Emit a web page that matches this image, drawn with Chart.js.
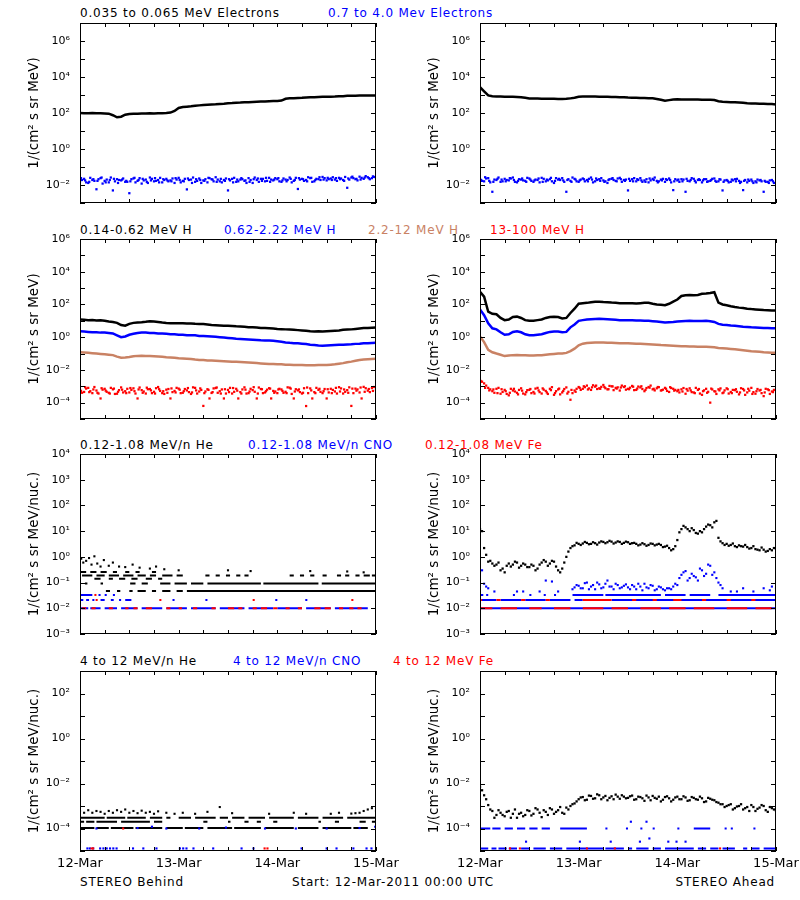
<!DOCTYPE html>
<html><head><meta charset="utf-8">
<script src="https://cdn.jsdelivr.net/npm/chart.js@4.4.1/dist/chart.umd.min.js"></script>
<style>
html,body{margin:0;padding:0;background:#fff}
body{width:800px;height:900px;position:relative;overflow:hidden;font-family:"DejaVu Sans",sans-serif}
.t{position:absolute;font-size:12px;line-height:14px;letter-spacing:0.8px;white-space:nowrap;color:#000}
canvas{position:absolute}
</style></head><body>
<div class="t" style="left:80px;top:6px">0.035 to 0.065 MeV Electrons</div>
<div class="t" style="left:328px;top:6px;color:#0000ff">0.7 to 4.0 Mev Electrons</div>
<div class="t" style="left:80px;top:223px">0.14-0.62 MeV H</div>
<div class="t" style="left:224px;top:223px;color:#0000ff">0.62-2.22 MeV H</div>
<div class="t" style="left:368px;top:223px;color:#c98264">2.2-12 MeV H</div>
<div class="t" style="left:490px;top:223px;color:#ff0000">13-100 MeV H</div>
<div class="t" style="left:80px;top:438px">0.12-1.08 MeV/n He</div>
<div class="t" style="left:248px;top:438px;color:#0000ff">0.12-1.08 MeV/n CNO</div>
<div class="t" style="left:425px;top:438px;color:#ff0000">0.12-1.08 MeV Fe</div>
<div class="t" style="left:80px;top:654px">4 to 12 MeV/n He</div>
<div class="t" style="left:233px;top:654px;color:#0000ff">4 to 12 MeV/n CNO</div>
<div class="t" style="left:393px;top:654px;color:#ff0000">4 to 12 MeV Fe</div>
<div class="t" style="left:80px;top:875px">STEREO Behind</div>
<div class="t" style="left:292px;top:875px">Start: 12-Mar-2011 00:00 UTC</div>
<div class="t" style="right:25px;top:875px">STEREO Ahead</div>
<script>
// ---------- axes / categories ----------
const HOURS = [0,1,2,3,4,5,6,7,8,9,10,11,12,13,14,15,16,17,18,19,20,21,22,23,24,25,26,27,28,29,30,31,32,33,34,35,36,37,38,39,40,41,42,43,44,45,46,47,48,49,50,51,52,53,54,55,56,57,58,59,60,61,62,63,64,65,66,67,68,69,70,71,72];
const HALF = [0.5,1.5,2.5,3.5,4.5,5.5,6.5,7.5,8.5,9.5,10.5,11.5,12.5,13.5,14.5,15.5,16.5,17.5,18.5,19.5,20.5,21.5,22.5,23.5,24.5,25.5,26.5,27.5,28.5,29.5,30.5,31.5,32.5,33.5,34.5,35.5,36.5,37.5,38.5,39.5,40.5,41.5,42.5,43.5,44.5,45.5,46.5,47.5,48.5,49.5,50.5,51.5,52.5,53.5,54.5,55.5,56.5,57.5,58.5,59.5,60.5,61.5,62.5,63.5,64.5,65.5,66.5,67.5,68.5,69.5,70.5,71.5];
const QUARTER = [0.25,1.25,2.25,3.25,4.25,5.25,6.25,7.25,8.25,9.25,10.25,11.25,12.25,13.25,14.25,15.25,16.25,17.25,18.25,19.25,20.25,21.25,22.25,23.25,24.25,25.25,26.25,27.25,28.25,29.25,30.25,31.25,32.25,33.25,34.25,35.25,36.25,37.25,38.25,39.25,40.25,41.25,42.25,43.25,44.25,45.25,46.25,47.25,48.25,49.25,50.25,51.25,52.25,53.25,54.25,55.25,56.25,57.25,58.25,59.25,60.25,61.25,62.25,63.25,64.25,65.25,66.25,67.25,68.25,69.25,70.25,71.25];
const X_TICKS = [0,6,12,18,24,30,36,42,48,54,60,66,72];
const X_LABELS = ['12-Mar','','','','13-Mar','','','','14-Mar','','','','15-Mar'];
const Y_TICKS_1 = [1e-3,1e-2,1e-1,1,10,100,1e3,1e4,1e5,1e6,1e7];
const Y_LABELS_1 = ['','10⁻²','','10⁰','','10²','','10⁴','','10⁶',''];
const Y_TICKS_2 = [1e-5,1e-4,1e-3,1e-2,1e-1,1,10,100,1e3,1e4,1e5,1e6];
const Y_LABELS_2 = ['','10⁻⁴','','10⁻²','','10⁰','','10²','','10⁴','','10⁶'];
const Y_TICKS_3 = [1e-3,1e-2,1e-1,1,10,100,1e3,1e4];
const Y_LABELS_3 = ['10⁻³','10⁻²','10⁻¹','10⁰','10¹','10²','10³','10⁴'];
const Y_TICKS_4 = [1e-5,1e-4,1e-3,1e-2,1e-1,1,10,100,1e3];
const Y_LABELS_4 = ['','10⁻⁴','','10⁻²','','10⁰','','10²',''];
const Y_TITLE_A = '1/(cm² s sr MeV)';
const Y_TITLE_B = '1/(cm² s sr MeV/nuc.)';

// ---------- Row 1: electrons ----------
const E_LO_B = [100,98,97,99,96,98,95,92,75,58,62,80,
 88,90,92,95,93,96,95,98,97,100,105,130,
 190,215,225,235,250,265,280,290,300,305,320,330,
 345,355,370,380,395,400,410,420,430,440,450,460,
 470,490,620,650,670,690,700,720,740,760,780,790,
 800,810,820,840,860,900,910,920,925,930,935,940,
 940];
const E_HI_B = [0.016,0.022,0.013,0.019,0.0058,0.024,0.017,0.014,0.005,0.021,0.018,0.015,
 0.0035,0.023,0.017,0.012,0.020,0.026,0.016,0.019,0.014,0.022,0.018,0.013,
 0.025,0.017,0.0057,0.020,0.015,0.023,0.018,0.014,0.021,0.027,0.016,0.019,
 0.005,0.022,0.015,0.020,0.017,0.024,0.013,0.019,0.022,0.016,0.025,0.018,
 0.021,0.015,0.020,0.026,0.017,0.006,0.022,0.019,0.024,0.016,0.021,0.028,
 0.018,0.023,0.020,0.025,0.019,0.007,0.026,0.021,0.029,0.022,0.027,0.024,
 0.026];
const E_HI_B_HALF = [0.019,0.014,0.025,0.017,0.021,0.012,0.020,0.026,0.016,0.019,0.023,0.015,
 0.021,0.014,0.024,0.018,0.013,0.022,0.017,0.025,0.019,0.016,0.023,0.020,
 0.014,0.022,0.019,0.026,0.017,0.013,0.021,0.024,0.016,0.020,0.014,0.023,
 0.018,0.025,0.016,0.021,0.013,0.019,0.026,0.015,0.022,0.017,0.020,0.024,
 0.016,0.023,0.019,0.014,0.025,0.020,0.017,0.027,0.015,0.022,0.019,0.024,
 0.021,0.027,0.017,0.023,0.028,0.020,0.024,0.018,0.025,0.031,0.021,0.028];
const E_HI_B_QTR = [0.024,0.018,0.015,0.021,0.017,0.026,0.014,0.019,0.022,0.013,0.020,0.017,
 0.016,0.025,0.019,0.022,0.015,0.018,0.024,0.014,0.021,0.018,0.016,0.024,
 0.019,0.016,0.023,0.013,0.021,0.019,0.017,0.025,0.020,0.015,0.022,0.017,
 0.021,0.014,0.020,0.024,0.018,0.015,0.021,0.023,0.017,0.025,0.015,0.020,
 0.024,0.018,0.016,0.022,0.019,0.024,0.021,0.016,0.025,0.019,0.027,0.020,
 0.025,0.019,0.024,0.021,0.017,0.023,0.029,0.022,0.020,0.026,0.024,0.030];
const E_LO_A = [2700,1600,950,850,830,820,810,800,790,780,760,700,
 640,630,630,625,620,615,610,600,600,610,650,700,
 800,820,830,830,820,810,800,790,780,770,760,740,
 720,710,700,690,680,670,650,600,540,480,520,560,
 580,570,570,565,560,555,550,545,540,520,450,420,
 410,400,395,385,370,350,340,335,330,325,320,315,
 300];
const E_HI_A = [0.021,0.016,0.024,0.0042,0.019,0.015,0.022,0.018,0.026,0.014,0.020,0.017,
 0.023,0.015,0.019,0.025,0.016,0.021,0.013,0.020,0.024,0.0042,0.017,0.022,
 0.015,0.023,0.019,0.026,0.016,0.021,0.018,0.013,0.022,0.017,0.025,0.019,
 0.005,0.021,0.016,0.024,0.018,0.014,0.022,0.017,0.020,0.015,0.023,0.0052,
 0.018,0.021,0.0042,0.016,0.022,0.019,0.014,0.021,0.017,0.023,0.016,0.005,
 0.019,0.015,0.021,0.017,0.0052,0.014,0.020,0.016,0.018,0.0042,0.015,0.019,
 0.014];
const E_HI_A_HALF = [0.017,0.023,0.014,0.020,0.026,0.016,0.019,0.023,0.015,0.021,0.018,0.025,
 0.017,0.020,0.014,0.022,0.018,0.016,0.024,0.019,0.015,0.021,0.026,0.016,
 0.020,0.016,0.022,0.014,0.019,0.024,0.016,0.021,0.019,0.023,0.015,0.020,
 0.017,0.024,0.019,0.015,0.021,0.018,0.026,0.016,0.022,0.019,0.014,0.021,
 0.015,0.020,0.017,0.024,0.014,0.019,0.021,0.016,0.022,0.015,0.020,0.018,
 0.014,0.018,0.022,0.015,0.019,0.017,0.013,0.020,0.016,0.015,0.018,0.013];
const E_HI_A_QTR = [0.019,0.027,0.017,0.015,0.022,0.020,0.016,0.024,0.019,0.017,0.023,0.015,
 0.020,0.018,0.023,0.015,0.020,0.025,0.017,0.022,0.018,0.019,0.015,0.020,
 0.018,0.021,0.016,0.020,0.023,0.017,0.015,0.019,0.024,0.016,0.021,0.017,
 0.022,0.016,0.021,0.018,0.015,0.023,0.019,0.014,0.018,0.021,0.019,0.016,
 0.020,0.016,0.022,0.019,0.017,0.021,0.018,0.015,0.019,0.017,0.021,0.015,
 0.017,0.020,0.016,0.013,0.017,0.020,0.016,0.014,0.019,0.017,0.013,0.016];

// ---------- Row 2: protons ----------
const H1_B = [12,11.5,11,11.3,10.5,10.8,10,9,8.5,7.5,5.5,5,
 6.5,7.5,8,8.3,8.8,9.5,9.2,8.5,7.8,7.4,7.2,7.0,
 7.2,7.0,6.8,6.9,6.6,6.5,6.3,6.0,5.6,5.4,5.2,5.0,
 5.0,4.8,4.6,4.5,4.3,4.1,4.0,3.9,3.7,3.6,3.5,3.4,
 3.2,3.1,3.0,2.9,2.8,2.7,2.6,2.5,2.3,2.2,2.3,2.2,
 2.3,2.4,2.5,2.6,2.8,2.9,3.0,3.2,3.4,3.6,3.7,3.8,
 3.9];
const H2_B = [2.3,2.2,2.1,2.0,2.0,1.9,1.9,1.8,1.7,1.3,1.0,1.1,
 1.4,1.6,1.8,1.9,1.9,1.8,1.8,1.7,1.7,1.6,1.5,1.5,
 1.4,1.4,1.3,1.3,1.3,1.2,1.2,1.15,1.1,1.05,1.0,0.95,
 0.9,0.85,0.8,0.78,0.75,0.72,0.7,0.68,0.65,0.63,0.62,0.6,
 0.56,0.52,0.48,0.45,0.43,0.42,0.40,0.38,0.35,0.33,0.31,0.30,
 0.31,0.32,0.33,0.34,0.35,0.36,0.37,0.39,0.40,0.42,0.43,0.44,
 0.45];
const H3_B = [0.12,0.115,0.11,0.105,0.10,0.095,0.09,0.085,0.08,0.065,0.056,0.058,
 0.062,0.068,0.072,0.074,0.072,0.07,0.068,0.066,0.063,0.06,0.058,0.055,
 0.052,0.05,0.048,0.046,0.043,0.041,0.04,0.038,0.037,0.036,0.035,0.034,
 0.033,0.032,0.031,0.03,0.029,0.028,0.027,0.026,0.025,0.024,0.023,0.023,
 0.022,0.022,0.021,0.021,0.020,0.020,0.020,0.019,0.019,0.019,0.020,0.020,
 0.020,0.021,0.022,0.024,0.026,0.029,0.032,0.036,0.040,0.043,0.045,0.047,
 0.048];
const H4_B = [6e-4,4.5e-4,8e-4,3.8e-4,5.5e-4,1.8e-4,7e-4,4e-4,6.5e-4,3.5e-4,8.5e-4,5e-4,
 4.2e-4,7.5e-4,1.8e-4,5.8e-4,3.6e-4,6.8e-4,4.6e-4,9e-4,3.8e-4,6.2e-4,1.8e-4,5.2e-4,
 7.2e-4,4e-4,5.6e-4,3.4e-4,8e-4,4.8e-4,6.3e-5,6.6e-4,3.9e-4,7.8e-4,5e-4,1.8e-4,
 6e-4,3.6e-4,7e-4,4.4e-4,8.6e-4,3.8e-4,5.8e-4,1.8e-4,6.8e-4,4.2e-4,7.6e-4,5.2e-4,
 3.8e-4,6.4e-4,4.6e-4,8.2e-4,1.8e-4,5.6e-4,3.6e-4,6.2e-5,7.4e-4,4.4e-4,6e-4,3.8e-4,
 1.8e-4,7e-4,4.8e-4,8.8e-4,3.6e-4,5.8e-4,6.3e-5,7.2e-4,4.2e-4,9.2e-4,5.4e-4,7.8e-4,
 6e-4];
const H4_B_HALF = [4e-4,7.2e-4,5e-4,9e-4,3.6e-4,6.2e-4,4.6e-4,8e-4,3.4e-4,5.8e-4,4.2e-4,7e-4,
 6e-4,3.6e-4,8.4e-4,4.8e-4,6.6e-4,3.8e-4,7.6e-4,5.2e-4,3.4e-4,6.8e-4,4.4e-4,8e-4,
 3.8e-4,6.8e-4,4.4e-4,8.6e-4,3.6e-4,6e-4,4.8e-4,1.8e-4,7.4e-4,4e-4,6.4e-4,3.6e-4,
 8e-4,4.6e-4,1.8e-4,6.4e-4,3.6e-4,7e-4,4.6e-4,8.4e-4,3.8e-4,6.2e-4,1.8e-4,4.8e-4,
 7e-4,4e-4,8.6e-4,3.4e-4,6.6e-4,4.4e-4,7.6e-4,3.8e-4,1.8e-4,8e-4,4.6e-4,6.8e-4,
 4.2e-4,6e-4,3.6e-4,7.4e-4,4.6e-4,8.6e-4,3.8e-4,6.4e-4,1.8e-4,7.6e-4,4.4e-4,9e-4];
const H4_B_QTR = [5.2e-4,8.8e-4,4.4e-4,6.4e-4,4e-4,7.6e-4,5.4e-4,3.6e-4,7.2e-4,4.6e-4,6.2e-4,3.8e-4,
 7.8e-4,5e-4,6.4e-4,4e-4,8.2e-4,5.6e-4,3.6e-4,6.6e-4,5e-4,4e-4,7.4e-4,4.2e-4,
 6.2e-4,5e-4,7.8e-4,4.2e-4,5.6e-4,7.4e-4,3.8e-4,6e-4,4.4e-4,8.4e-4,3.6e-4,6.6e-4,
 4.4e-4,7.8e-4,5.4e-4,3.6e-4,6.2e-4,4.8e-4,8.8e-4,3.6e-4,6.6e-4,5e-4,7.2e-4,4e-4,
 6.4e-4,5.2e-4,3.8e-4,7.2e-4,4.8e-4,6.4e-4,4e-4,8.4e-4,5.6e-4,3.8e-4,7e-4,5e-4,
 6.6e-4,3.8e-4,8e-4,4.8e-4,6.4e-4,4e-4,7.2e-4,5.4e-4,8.4e-4,4.6e-4,6.8e-4,5.2e-4];
const H1_A = [600,300,36,27,25,15,11,12,17,18,15,11,
 10,10,11,12,15,17,18,17,14,15,30,55,
 110,120,125,135,145,145,140,138,130,125,120,118,
 118,117,115,120,125,128,110,100,95,90,110,150,
 200,330,370,380,370,380,450,470,500,560,130,100,
 90,78,70,64,60,55,52,50,48,46,45,43,
 42];
const H2_A = [50,22,7,3.5,3,2,1.4,1.5,2.1,2.3,2,1.5,
 1.3,1.3,1.4,1.5,1.8,2.1,2.2,2.2,2.0,2.1,4,6,
 10,11,12,12.5,13,13.5,13,12.5,12,11.5,11,11,
 11,10.8,10.5,10.5,10.2,10,9.5,9,8.5,8,8.2,8.5,
 9,9.5,9.8,10,9.8,9.6,9.8,10,9.5,8.5,6.5,5.8,
 5.5,5.2,5,4.7,4.4,4.2,4,3.9,3.8,3.7,3.6,3.5,
 3.5];
const H3_A = [1.1,0.5,0.17,0.12,0.1,0.085,0.07,0.075,0.08,0.082,0.08,0.078,
 0.075,0.075,0.078,0.08,0.085,0.09,0.095,0.1,0.1,0.11,0.14,0.2,
 0.32,0.4,0.44,0.46,0.48,0.48,0.47,0.46,0.45,0.44,0.43,0.42,
 0.42,0.41,0.4,0.39,0.38,0.37,0.36,0.35,0.33,0.32,0.31,0.3,
 0.29,0.28,0.28,0.27,0.27,0.26,0.26,0.26,0.25,0.24,0.22,0.21,
 0.2,0.19,0.18,0.17,0.16,0.15,0.14,0.135,0.13,0.12,0.115,0.11,
 0.11];
const H4_A = [2.4e-3,1.5e-3,8e-4,5e-4,7e-4,3.5e-4,6e-4,2.8e-4,5.5e-4,4e-4,7.5e-4,3.2e-4,
 6e-4,4.5e-4,8e-4,3.6e-4,5.2e-4,7e-4,3e-4,6.4e-4,4.2e-4,8.5e-4,1.5e-4,5.5e-4,
 9e-4,7e-4,1.1e-3,6e-4,9.5e-4,7.5e-4,1.2e-3,6.5e-4,1e-3,8e-4,5.5e-4,9e-4,
 7e-4,1.05e-3,6e-4,8.5e-4,5e-4,9e-4,6.5e-4,7.5e-4,5.5e-4,8e-4,4.5e-4,7e-4,
 5e-4,6.5e-4,3.5e-4,7.5e-4,4.2e-4,6e-4,3e-4,7e-4,1e-4,5e-4,6.5e-4,3.8e-4,
 7.5e-4,4.5e-4,5.8e-4,3.2e-4,6.8e-4,4.2e-4,8e-4,3.5e-4,5.5e-4,2.5e-4,6.5e-4,4.8e-4,
 5.5e-4];
const H4_A_HALF = [1.9e-3,1.1e-3,6.5e-4,4e-4,8e-4,4.5e-4,3.4e-4,7e-4,4.8e-4,6e-4,3.6e-4,5.8e-4,
 3.8e-4,7.2e-4,4.4e-4,6.2e-4,3.4e-4,8.8e-4,5e-4,3.2e-4,6.8e-4,4.6e-4,3.8e-4,7e-4,
 6e-4,8.8e-4,7.4e-4,1.15e-3,6.8e-4,9.2e-4,7.6e-4,1.05e-3,5.8e-4,8.6e-4,1.1e-3,6.2e-4,
 8.2e-4,5.8e-4,9.6e-4,6.8e-4,7.8e-4,1.1e-3,5.6e-4,8.8e-4,6.2e-4,5.2e-4,7.8e-4,6e-4,
 4.2e-4,7.8e-4,5.4e-4,4.4e-4,8e-4,3.6e-4,5.6e-4,4.6e-4,6.4e-4,3.4e-4,7.4e-4,5.6e-4,
 3.6e-4,6e-4,4.6e-4,7.6e-4,3e-4,5.4e-4,4.4e-4,6.8e-4,3.8e-4,7e-4,3.4e-4,6e-4];
const H4_A_QTR = [2e-3,8e-4,5.6e-4,6.4e-4,3.8e-4,6.6e-4,5e-4,4e-4,7e-4,3.2e-4,5.4e-4,4.4e-4,
 6.8e-4,3.6e-4,5.6e-4,7.4e-4,4.2e-4,5.8e-4,3.8e-4,7.2e-4,5.2e-4,3.6e-4,6e-4,4.6e-4,
 8e-4,1e-3,6.4e-4,8.6e-4,1.1e-3,7e-4,9e-4,6.6e-4,9.8e-4,7.2e-4,8.4e-4,1e-3,
 6.6e-4,9.4e-4,7.2e-4,1e-3,6e-4,8.2e-4,7e-4,9e-4,5.8e-4,7e-4,8.8e-4,5.4e-4,
 6e-4,4.8e-4,6.8e-4,5.6e-4,3.8e-4,6.8e-4,5e-4,4e-4,7.2e-4,4.8e-4,5.6e-4,4.2e-4,
 6.6e-4,3.8e-4,6.6e-4,4.2e-4,5.6e-4,7e-4,3.4e-4,5e-4,6e-4,4.2e-4,5.8e-4,4.4e-4];

// ---------- Row 3: 0.12-1.08 MeV/n ions ----------
const HE_B_LEVELS = [0.047,0.093,0.14,0.19,0.26];
const HE_B_SEG_047 = [[6.3,7.3],[9,9.8],[12,12.8],[14,16],[17.5,18.5],[20,22],[23.5,25],[26,72]];
const HE_B_SEG_093 = [[1.2,1.8],[5,5.6],[12.2,13.5],[15,16.5],[19.5,22],[23,26],[27,30],[31,44],[44.6,58],[58.8,72]];
const HE_B_SEG_14 = [[3.5,5],[7,8],[9.5,11],[12.5,14],[16,17.5],[19,20]];
const HE_B_SEG_19 = [[0.5,3],[4,6],[7,9.5],[10.5,13],[14,16],[17,18.5],[20,22.5],[23.5,25],[30.5,31.5],[33,34],[35.5,36.5],[38,39],[40,41],[51,52],[53.5,54.5],[56,57],[59,60],[62.5,63.5],[64.5,65.5],[67,68],[69,70.5],[71,72]];
const HE_B_SEG_26 = [[0,1.5],[2.5,4],[5,6.5],[8,9],[11,12],[13.5,14.5],[17.5,18.5]];
const HE_B_PTS = [[0.3,0.85],[0.8,0.6],[1.5,0.7],[2.2,0.9],[2.8,0.5],[3.5,1.05],[4.2,0.55],[5,0.42],[5.8,0.75],[7,0.45],[8,0.6],[9.5,0.42],[11,0.4],[12.8,0.5],[14.5,0.38],[17,0.35],[18.5,0.42],[20.5,0.33],[24,0.3],[36,0.3],[41.5,0.28],[56,0.28],[65,0.27],[69,0.25]];
const ION_LEVELS = [0.01,0.021,0.033];
const CNO_B_SEG_010 = [[0,2],[2.5,5],[6,9],[10,14],[15,20],[21,26],[27,33],[34,40],[41,47],[48,54],[55,61],[62,70]];
const CNO_B_SEG_021 = [[0,0.8],[1.5,2.2],[3,3.5],[5,6],[7.5,8.2],[9.5,10],[11,12.5],[22.5,23],[30.5,31],[47.5,48],[54.8,55.3]];
const CNO_B_SEG_033 = [[0,3],[4.5,5],[6,6.5],[8,8.5]];
const FE_B_SEG_010 = [[0.5,1.5],[2.8,3.8],[7,8],[11,11.8],[13,14],[16,17.5],[21,22],[24,24.8],[27.5,28.5],[32,33],[36,37.5],[38.5,39.5],[42,43],[44,45.5],[47,48],[50,51],[53,54],[57,58.5],[59.5,61],[63,64],[65.5,66.5],[67.5,68.5]];
const FE_B_SEG_021 = [[3.8,4.3],[19.3,19.8],[42,42.5],[66,66.5]];
const FE_B_SEG_033 = [[3.5,4]];

const HE_A = [12,2.2,0.65,0.55,0.5,0.3,0.25,0.55,0.5,0.6,0.45,0.5,
 0.4,0.45,0.35,0.6,0.65,0.55,0.65,0.3,0.35,1.0,2.2,2.8,
 3.2,3.3,3.5,3.2,3.4,3.6,3.8,3.7,3.9,3.6,3.8,3.5,
 3.7,3.4,3.2,3.0,3.1,2.9,3.2,3.0,2.9,2.5,2.2,2.0,
 4.5,12,14,10,11,8,9,15,17,22,5.5,3.4,
 3.2,2.9,2.6,2.8,2.5,2.4,2.2,2.0,1.8,1.9,1.7,1.8,
 2.1];
const HE_A_HALF = [10,1.2,0.7,0.45,0.6,0.35,0.45,0.42,0.65,0.38,0.55,0.4,
 0.5,0.3,0.5,0.75,0.45,0.7,0.42,0.25,0.6,1.6,2.6,3.5,
 2.9,3.8,3.1,3.7,3.0,4.0,3.4,4.2,3.3,4.0,3.2,3.9,
 3.2,3.5,2.8,3.4,2.7,3.3,2.8,3.2,2.4,2.7,1.8,2.6,
 9,16,12,13,8.5,10,12,18,14,25,4,2.9,
 2.7,3.3,2.4,2.6,2.9,2.1,2.6,1.9,2.3,1.6,2.0,2.2];
const CNO_A = [0.25,0.09,0.06,null,null,null,null,null,null,0.045,null,null,
 null,null,null,null,0.12,null,null,0.045,null,null,null,0.065,
 0.075,0.06,0.1,0.07,0.055,0.085,0.065,0.12,0.07,0.09,0.06,0.075,
 0.065,0.08,0.055,0.07,0.09,0.06,0.075,0.055,0.065,0.05,0.06,0.07,
 0.08,0.2,0.28,0.15,0.18,0.12,0.3,0.22,0.45,0.25,0.1,0.06,
 null,0.045,null,null,0.06,null,null,null,null,0.06,null,0.07,
 0.06];
const CNO_A_HALF = [0.3,0.07,null,0.045,null,null,null,null,null,null,0.045,null,
 null,null,0.045,null,null,0.11,null,null,null,null,0.055,0.08,
 0.06,0.095,0.055,0.08,0.1,0.06,0.09,0.07,0.055,0.08,0.065,0.085,
 0.055,0.07,0.09,0.05,0.065,0.08,0.05,0.07,0.055,0.06,0.055,0.09,
 0.15,0.25,0.12,0.22,0.16,0.35,0.18,0.5,0.2,0.15,0.08,null,
 null,null,0.045,null,null,null,0.045,null,null,null,0.05,null];
const CNO_A_SEG_033 = [[0,0.8],[1.5,2],[8,8.5],[12,12.5],[15.5,16],[18,18.5],[22.5,30],[30.5,44],[45,50],[51,56],[58,72]];
const CNO_A_SEG_021 = [[0,4],[5,10],[11,16],[17,22],[23,25],[32,72]];
const CNO_A_SEG_010 = [[0,72]];
const FE_A_SEG_021 = [[0,0.5],[4,5],[10,11],[16,17],[25,32],[37,38],[42,43],[47,49],[54,55],[60,61],[66,67]];
const FE_A_SEG_010 = [[0,3],[5,9],[12,15],[18,22],[25,30],[32,36],[39,44],[46,50],[52,57],[60,65],[67,71]];

// ---------- Row 4: 4-12 MeV/n ions ----------
const HE4_B = [6e-4,5e-4,6.5e-4,5e-4,6e-4,5.5e-4,4.5e-4,6e-4,5e-4,6.5e-4,5.5e-4,7e-4,
 5e-4,6e-4,4.8e-4,6.2e-4,5e-4,5.5e-4,4.5e-4,5.8e-4,null,5e-4,null,4.5e-4,
 null,5e-4,null,null,4.5e-4,null,null,5.5e-4,null,null,9e-4,null,
 null,4.8e-4,null,null,null,null,null,null,null,null,4.5e-4,null,
 null,null,null,null,5e-4,null,null,4.5e-4,null,null,null,null,
 null,4.5e-4,null,5e-4,null,null,4.6e-4,4.8e-4,5e-4,6e-4,7e-4,8e-4,
 6e-4];
const HE4_B_LEVELS = [3e-4,2e-4,1.05e-4];
const HE4_B_SEG_3 = [[0,6],[6.5,11],[11.5,16],[17,20],[21,22],[24,27],[28,33],[34,36],[37,40],[41,45],[46,52],[53,58],[59,64],[65,72]];
const HE4_B_SEG_2 = [[0,1],[1.5,3.5],[4,9],[10,17],[18,20],[30,31],[36,36.6],[40,41],[43,44],[47,48],[58,58.6],[62,63],[68,69.5],[71,72]];
const HE4_B_SEG_1 = [[0,3.5],[4,7],[7.5,13],[13.5,20],[21,25],[25.5,30],[31,37],[37.5,44],[45,52],[53,58],[59,66],[66.5,70]];
const CNO4_B_PTS = [[0,2.6e-5],[4,1e-4],[14,1.05e-4],[17.5,1.2e-4],[21,1e-4],[29,1e-4],[35.5,1.1e-4],[45,1e-4],[52.5,1e-4],[60,1e-4],[68,1.05e-4],[71.8,1.2e-4]];
const BOTTOM_LEVEL = 1.3e-5;
const CNO4_B_BOT = [1.8,2.4,3.2,4.9,5.7,6.5,7.3,8.1,8.9,12.9,15.4,18.6,24.3,25.1,25.9,27.6,32.4,39.3,42.2,53.9,60,62.4,66.5,69.7,70.9];
const FE4_B_PTS = [[10.5,1e-4]];
const FE4_B_BOT = [2.8,3.2,44.9,45.6];

const HE4_A = [7e-3,3e-3,1.1e-3,6e-4,4e-4,5e-4,3.5e-4,6e-4,4.5e-4,3e-4,5e-4,4e-4,
 6e-4,4.5e-4,7e-4,3.2e-4,5.5e-4,8e-4,4.5e-4,6.5e-4,5e-4,8.5e-4,1e-3,1.3e-3,
 2e-3,2.5e-3,1.9e-3,2.8e-3,2.2e-3,3e-3,2.4e-3,1.8e-3,2.7e-3,3.2e-3,2.1e-3,2.6e-3,
 2.3e-3,2.9e-3,2e-3,2.5e-3,1.7e-3,2.4e-3,2.8e-3,2.1e-3,1.6e-3,2.5e-3,2.2e-3,1.9e-3,
 2.6e-3,2e-3,2.4e-3,1.8e-3,2.3e-3,1.9e-3,2.2e-3,1.6e-3,2.1e-3,1.8e-3,1.4e-3,1.2e-3,
 1e-3,1.2e-3,8e-4,1e-3,7e-4,9e-4,1.1e-3,6e-4,8.5e-4,1e-3,5.5e-4,8e-4,
 6e-4];
const HE4_A_HALF = [5e-3,2e-3,7e-4,3e-4,6.5e-4,4e-4,5.5e-4,3e-4,7e-4,4.5e-4,3.5e-4,6.5e-4,
 3.8e-4,8e-4,5e-4,6.5e-4,4e-4,7e-4,5.5e-4,9e-4,4.5e-4,7e-4,1.2e-3,1.6e-3,
 2.4e-3,1.8e-3,2.9e-3,2.1e-3,3.3e-3,2e-3,2.8e-3,2.3e-3,2e-3,2.6e-3,3e-3,2.2e-3,
 2.7e-3,1.9e-3,2.6e-3,2.2e-3,2.9e-3,1.8e-3,2.3e-3,2.6e-3,1.9e-3,2.7e-3,1.6e-3,2.4e-3,
 2e-3,2.7e-3,1.7e-3,2.5e-3,2e-3,2.6e-3,1.5e-3,2.3e-3,1.9e-3,1.5e-3,1.2e-3,9e-4,
 1.1e-3,7e-4,9.5e-4,1.2e-3,8e-4,6e-4,9e-4,7.5e-4,1.1e-3,6.5e-4,9e-4,7e-4];
const CNO4_A_LEVEL = 1e-4;
const CNO4_A_SEG_1 = [[0,2.5],[3,5],[6,8],[9,11],[12,14],[15,17],[19.5,26],[30.5,31],[35.5,36],[39,39.5],[42,42.5],[48,48.5],[52,56],[59.5,60],[61,61.5],[66.5,67]];
const CNO4_A_PTS = [[36.7,2e-4],[40.5,2e-4],[41.2,3.6e-5],[11.2,2.6e-5],[24.3,2.6e-5],[31.8,2.6e-5],[38.9,2.6e-5],[45.8,2.6e-5],[47.8,2.6e-5],[50,2.6e-5]];
const CNO4_A_SEG_BOT = [[0,2],[2.8,4],[4.5,6.5],[7,9],[10,12],[13,16],[17,20],[21,30],[30.5,35],[36,37],[38,41],[42,44],[45,52],[53,55],[56,58],[59,62],[64,65],[66,68],[69,72]];
const FE4_A_BOT = [7.3,9.7,26,32.8,58.4];

// ---------- colours ----------
const BLACK = '#000000', BLUE = '#0000ff', BROWN = '#c98264', RED = '#ff0000';

// ---------- helpers ----------
const pts = (T, V) => T.map((t, i) => ({x: t, y: V[i]})).filter(p => p.y !== null && p.y !== undefined);
function curve(T, V, color, order) {
  return {type: 'line', data: pts(T, V), borderColor: color, borderWidth: 2.5, pointRadius: 0, tension: 0, fill: false, order};
}
function dots(T, V, color, order, r) {
  return {type: 'line', data: pts(T, V), showLine: false, pointStyle: 'rect', pointRadius: r || 1.5,
    pointBackgroundColor: color, pointBorderWidth: 0, borderColor: color, backgroundColor: color, order};
}
function pairs(P, color, order, r) {
  return dots(P.map(p => p[0]), P.map(p => p[1]), color, order, r);
}
function atLevel(T, level, color, order) {
  return pairs(T.map(t => [t, level]), color, order);
}
function dashes(segs, level, color, order) {
  const d = [];
  segs.forEach(([a, b]) => { d.push({x: a, y: level}, {x: b, y: level}, {x: b, y: null}); });
  return {type: 'line', data: d, borderColor: color, borderWidth: 2, pointRadius: 0, spanGaps: false, fill: false, order};
}

const framePlugin = {
  id: 'frame',
  afterDraw(c) {
    const ctx = c.ctx, a = c.chartArea, x = c.scales.x, y = c.scales.y;
    ctx.save();
    ctx.strokeStyle = '#000'; ctx.lineWidth = 1;
    ctx.strokeRect(a.left + 0.5, a.top + 0.5, a.right - a.left - 1, a.bottom - a.top - 1);
    ctx.beginPath();
    y.ticks.forEach(t => {
      const py = Math.round(y.getPixelForValue(t.value)) + 0.5;
      ctx.moveTo(a.left, py); ctx.lineTo(a.left + 5, py);
      ctx.moveTo(a.right, py); ctx.lineTo(a.right - 5, py);
    });
    x.ticks.forEach(t => {
      const px = Math.round(x.getPixelForValue(t.value)) + 0.5;
      ctx.moveTo(px, a.bottom); ctx.lineTo(px, a.bottom - 4);
      ctx.moveTo(px, a.top); ctx.lineTo(px, a.top + 4);
    });
    ctx.stroke();
    ctx.restore();
  }
};

Chart.defaults.font.family = '"DejaVu Sans", sans-serif';
Chart.defaults.color = '#000';

function yScale(ticks, labels, title) {
  return {
    type: 'logarithmic', position: 'left', min: ticks[0], max: ticks[ticks.length - 1],
    afterBuildTicks: s => { s.ticks = ticks.map(v => ({value: v})); },
    afterFit: s => { s.width = 80; s.paddingTop = 0; s.paddingBottom = 0; },
    ticks: {autoSkip: false, padding: 10, font: {size: 11}, color: '#000', callback: (v, i) => labels[i]},
    grid: {display: false, drawTicks: false}, border: {display: false},
    title: {display: true, text: title, align: 'center', color: '#000', font: {size: 13.5}, padding: {top: 26, bottom: 0}}
  };
}
function xScale(show) {
  return {
    type: 'linear', position: 'bottom', min: 0, max: 72,
    afterBuildTicks: s => { s.ticks = X_TICKS.map(v => ({value: v})); },
    afterFit: s => { s.height = show ? 26 : 8; s.paddingLeft = 0; s.paddingRight = 0; },
    ticks: {display: show, autoSkip: false, maxRotation: 0, minRotation: 0, padding: 5, font: {size: 13}, color: '#000', callback: (v, i) => X_LABELS[i]},
    grid: {display: false, drawTicks: false}, border: {display: false}
  };
}

function panel(left, top, yt, yl, title, show, datasets) {
  const cv = document.createElement('canvas');
  const h = 8 + 180 + (show ? 26 : 8);
  cv.width = 400; cv.height = h;
  cv.style.left = left + 'px'; cv.style.top = (top - 8) + 'px';
  cv.style.width = '400px'; cv.style.height = h + 'px';
  document.body.appendChild(cv);
  new Chart(cv, {
    type: 'line',
    data: {datasets},
    options: {
      responsive: false, animation: false, devicePixelRatio: 1, events: [],
      layout: {padding: {top: 8, right: 24, left: 0, bottom: 0}},
      plugins: {legend: {display: false}, tooltip: {enabled: false}},
      scales: {x: xScale(show), y: yScale(yt, yl, title)}
    },
    plugins: [framePlugin]
  });
}

// Row 1
panel(0, 23, Y_TICKS_1, Y_LABELS_1, Y_TITLE_A, false, [
  curve(HOURS, E_LO_B, BLACK, 3),
  dots(HOURS, E_HI_B, BLUE, 2, 1.6), dots(HALF, E_HI_B_HALF, BLUE, 2, 1.6), dots(QUARTER, E_HI_B_QTR, BLUE, 2, 1.6)
]);
panel(400, 23, Y_TICKS_1, Y_LABELS_1, Y_TITLE_A, false, [
  curve(HOURS, E_LO_A, BLACK, 3),
  dots(HOURS, E_HI_A, BLUE, 2, 1.6), dots(HALF, E_HI_A_HALF, BLUE, 2, 1.6), dots(QUARTER, E_HI_A_QTR, BLUE, 2, 1.6)
]);
// Row 2
panel(0, 239, Y_TICKS_2, Y_LABELS_2, Y_TITLE_A, false, [
  curve(HOURS, H1_B, BLACK, 3), curve(HOURS, H2_B, BLUE, 2), curve(HOURS, H3_B, BROWN, 1),
  dots(HOURS, H4_B, RED, 0, 1.6), dots(HALF, H4_B_HALF, RED, 0, 1.6), dots(QUARTER, H4_B_QTR, RED, 0, 1.6)
]);
panel(400, 239, Y_TICKS_2, Y_LABELS_2, Y_TITLE_A, false, [
  curve(HOURS, H1_A, BLACK, 3), curve(HOURS, H2_A, BLUE, 2), curve(HOURS, H3_A, BROWN, 1),
  dots(HOURS, H4_A, RED, 0, 1.6), dots(HALF, H4_A_HALF, RED, 0, 1.6), dots(QUARTER, H4_A_QTR, RED, 0, 1.6)
]);
// Row 3
panel(0, 454, Y_TICKS_3, Y_LABELS_3, Y_TITLE_B, false, [
  dashes(HE_B_SEG_047, HE_B_LEVELS[0], BLACK, 3),
  dashes(HE_B_SEG_093, HE_B_LEVELS[1], BLACK, 3),
  dashes(HE_B_SEG_14, HE_B_LEVELS[2], BLACK, 3),
  dashes(HE_B_SEG_19, HE_B_LEVELS[3], BLACK, 3),
  dashes(HE_B_SEG_26, HE_B_LEVELS[4], BLACK, 3),
  pairs(HE_B_PTS, BLACK, 3),
  dashes(CNO_B_SEG_010, ION_LEVELS[0], BLUE, 2),
  dashes(CNO_B_SEG_021, ION_LEVELS[1], BLUE, 2),
  dashes(CNO_B_SEG_033, ION_LEVELS[2], BLUE, 2),
  dashes(FE_B_SEG_010, ION_LEVELS[0], RED, 0),
  dashes(FE_B_SEG_021, ION_LEVELS[1], RED, 0),
  dashes(FE_B_SEG_033, ION_LEVELS[2], RED, 0)
]);
panel(400, 454, Y_TICKS_3, Y_LABELS_3, Y_TITLE_B, false, [
  dots(HOURS, HE_A, BLACK, 3, 1.6), dots(HALF, HE_A_HALF, BLACK, 3, 1.6),
  dots(HOURS, CNO_A, BLUE, 2), dots(HALF, CNO_A_HALF, BLUE, 2),
  dashes(CNO_A_SEG_033, ION_LEVELS[2], BLUE, 2),
  dashes(CNO_A_SEG_021, ION_LEVELS[1], BLUE, 2),
  dashes(CNO_A_SEG_010, ION_LEVELS[0], BLUE, 2),
  dashes(FE_A_SEG_021, ION_LEVELS[1], RED, 0),
  dashes(FE_A_SEG_010, ION_LEVELS[0], RED, 0)
]);
// Row 4
panel(0, 671, Y_TICKS_4, Y_LABELS_4, Y_TITLE_B, true, [
  dots(HOURS, HE4_B, BLACK, 3),
  dashes(HE4_B_SEG_3, HE4_B_LEVELS[0], BLACK, 3),
  dashes(HE4_B_SEG_2, HE4_B_LEVELS[1], BLACK, 3),
  dashes(HE4_B_SEG_1, HE4_B_LEVELS[2], BLACK, 3),
  pairs(CNO4_B_PTS, BLUE, 2),
  atLevel(CNO4_B_BOT, BOTTOM_LEVEL, BLUE, 2),
  pairs(FE4_B_PTS, RED, 0),
  atLevel(FE4_B_BOT, BOTTOM_LEVEL, RED, 0)
]);
panel(400, 671, Y_TICKS_4, Y_LABELS_4, Y_TITLE_B, true, [
  dots(HOURS, HE4_A, BLACK, 3, 1.6), dots(HALF, HE4_A_HALF, BLACK, 3, 1.6),
  dashes(CNO4_A_SEG_1, CNO4_A_LEVEL, BLUE, 2),
  pairs(CNO4_A_PTS, BLUE, 2),
  dashes(CNO4_A_SEG_BOT, BOTTOM_LEVEL, BLUE, 2),
  atLevel(FE4_A_BOT, BOTTOM_LEVEL, RED, 0)
]);
</script>
</body></html>
